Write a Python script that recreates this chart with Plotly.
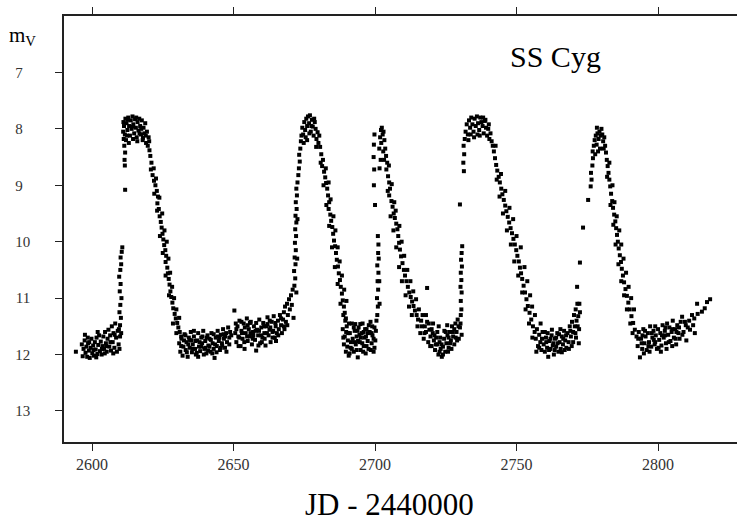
import plotly.graph_objects as go

# ---- data: (JD - 2440000, visual magnitude) ----
q0 = [(2594.3, 11.95), (2596.4, 11.82), (2596.7, 12.03), (2597.0, 11.9), (2597.4, 11.75), (2597.7, 11.97),
      (2598.0, 11.86), (2598.3, 12.04), (2598.6, 11.8), (2598.9, 11.93), (2599.2, 12.06), (2599.5, 11.88),
      (2599.8, 11.72), (2600.1, 11.98), (2600.4, 11.84), (2600.7, 12.02), (2601.0, 11.78), (2601.3, 11.91),
      (2601.6, 11.7), (2601.9, 11.99), (2602.2, 11.83), (2602.5, 11.66), (2602.8, 11.94), (2603.1, 11.77),
      (2603.4, 12.0), (2603.7, 11.85), (2604.0, 11.68), (2604.3, 11.9), (2604.6, 11.6), (2604.9, 11.8),
      (2605.2, 11.95), (2605.5, 11.72), (2605.8, 11.56), (2606.1, 11.86), (2606.4, 11.66), (2606.7, 11.93),
      (2607.0, 11.5), (2607.3, 11.78), (2607.6, 11.62), (2607.9, 11.88), (2608.2, 11.45), (2608.5, 11.7),
      (2608.8, 11.95), (2609.1, 11.58), (2609.4, 11.82), (2609.7, 11.9), (2609.9, 11.68),
      (2597.5, 11.65), (2599.0, 11.78), (2600.5, 11.92), (2602.0, 11.6), (2603.5, 11.9), (2605.0, 11.85),
      (2606.5, 11.78), (2608.0, 11.65), (2609.5, 11.55), (2598.5, 11.7), (2601.5, 12.05), (2604.5, 11.98),
      (2607.5, 11.98)]

o1 = [(2610.3, 11.62), (2609.9, 11.48), (2610.2, 11.35), (2609.7, 11.25), (2610.0, 11.12), (2610.4, 11.0),
      (2609.8, 10.88), (2610.1, 10.75), (2609.6, 10.62), (2610.0, 10.5), (2610.3, 10.4), (2610.1, 10.28),
      (2610.5, 10.18), (2610.7, 10.1), (2611.7, 9.08),
      (2611.6, 8.65), (2611.5, 8.55), (2611.7, 8.42), (2611.4, 8.3), (2611.2, 8.18), (2611.6, 8.1),
      (2611.0, 8.05), (2611.3, 7.95), (2611.1, 7.88),
      (2611.8, 7.82), (2612.2, 7.9), (2612.5, 8.02), (2612.8, 7.8), (2613.1, 7.95), (2613.4, 8.12),
      (2613.7, 7.85), (2614.0, 8.0), (2614.3, 7.78), (2614.6, 7.92), (2614.9, 8.08), (2615.2, 7.83),
      (2615.5, 7.98), (2615.8, 8.15), (2616.1, 7.88), (2616.4, 8.03), (2616.7, 7.82), (2617.0, 7.95),
      (2617.3, 8.1), (2617.6, 7.85), (2617.9, 8.2), (2618.2, 7.98), (2618.5, 8.08), (2618.8, 7.9),
      (2619.1, 8.25), (2619.4, 8.05), (2619.7, 8.3), (2620.0, 8.15), (2620.3, 8.38), (2612.0, 8.2),
      (2613.0, 8.25), (2612.6, 7.84), (2616.0, 8.22), (2614.5, 8.18),
      (2620.6, 8.48), (2621.0, 8.6), (2620.8, 8.72), (2621.4, 8.82), (2621.9, 8.92), (2622.4, 9.0),
      (2622.9, 9.1), (2623.3, 9.2), (2623.1, 9.32), (2623.6, 9.42), (2623.9, 9.55), (2624.3, 9.65),
      (2624.6, 9.75), (2624.9, 9.86), (2625.2, 9.96), (2625.5, 10.06), (2625.9, 10.15), (2626.2, 10.25),
      (2626.0, 10.36), (2626.6, 10.46), (2626.8, 10.56), (2627.1, 10.66), (2627.4, 10.76), (2627.7, 10.88),
      (2628.0, 10.98), (2628.4, 11.08), (2628.7, 11.18), (2629.2, 11.28), (2629.6, 11.36), (2630.1, 11.44),
      (2630.5, 11.52), (2631.0, 11.6), (2631.5, 11.68),
      (2621.8, 8.7), (2622.6, 8.88), (2623.8, 9.22), (2624.8, 9.5), (2625.6, 9.8), (2626.4, 10.0),
      (2627.0, 10.3), (2627.6, 10.55), (2628.3, 10.8), (2629.0, 11.0), (2629.8, 11.2), (2630.8, 11.35),
      (2612.4, 8.12), (2614.2, 7.96), (2615.6, 7.8), (2617.4, 8.0), (2619.0, 8.12), (2620.2, 8.22),
      (2622.0, 9.15), (2623.0, 9.45), (2624.0, 9.9), (2625.0, 10.2), (2626.0, 10.6), (2627.2, 10.95),
      (2628.6, 11.45), (2629.8, 11.62), (2616.8, 8.08), (2618.0, 8.16)]

q1 = [(2630.8, 11.8), (2631.2, 11.95), (2631.6, 11.72), (2632.0, 12.02), (2632.3, 11.86), (2632.7, 11.64),
      (2633.1, 11.92), (2633.4, 11.78), (2633.8, 12.04), (2634.2, 11.7), (2634.5, 11.88), (2634.9, 11.6),
      (2635.3, 11.96), (2635.6, 11.82), (2636.0, 11.68), (2636.4, 11.9), (2636.7, 12.0), (2637.1, 11.75),
      (2637.5, 11.62), (2637.8, 11.86), (2638.2, 11.94), (2638.6, 11.7), (2638.9, 11.8), (2639.3, 11.58),
      (2639.7, 11.9), (2640.0, 11.76), (2640.4, 11.98), (2640.8, 11.66), (2641.1, 11.84), (2641.5, 11.72),
      (2641.9, 11.95), (2642.2, 11.62), (2642.6, 11.8), (2643.0, 11.9), (2643.3, 12.06), (2643.7, 11.7),
      (2644.1, 11.85), (2644.4, 11.58), (2644.8, 11.76), (2645.2, 11.92), (2645.5, 11.65), (2645.9, 11.8),
      (2646.3, 11.55), (2646.6, 11.72), (2647.0, 11.88), (2647.4, 11.62), (2647.7, 11.78), (2648.1, 11.52),
      (2648.5, 11.7), (2648.8, 11.6), (2649.2, 11.66),
      (2633.0, 11.66), (2635.0, 11.75), (2637.0, 11.97), (2639.0, 11.68), (2641.0, 11.93), (2643.0, 11.64),
      (2645.0, 11.7), (2647.0, 11.68), (2634.0, 11.82), (2636.0, 11.58), (2638.0, 11.78), (2640.0, 11.88),
      (2642.0, 11.74), (2644.0, 11.96), (2646.0, 11.84),
      (2631.5, 11.85), (2632.5, 11.75), (2633.5, 11.96), (2634.5, 11.74), (2635.5, 11.9), (2636.5, 11.76),
      (2637.5, 12.04), (2638.5, 11.86), (2639.5, 12.0), (2640.5, 11.7), (2641.5, 11.86), (2642.5, 11.98),
      (2643.5, 11.82), (2644.5, 11.68), (2645.5, 11.88), (2646.5, 11.64), (2647.5, 11.95), (2648.5, 11.82),
      (2650.3, 11.22), (2650.6, 11.62), (2651.0, 11.78), (2651.4, 11.5), (2651.7, 11.68), (2652.1, 11.4),
      (2652.5, 11.85), (2652.8, 11.58), (2653.2, 11.72), (2653.6, 11.45), (2653.9, 11.9), (2654.3, 11.62),
      (2654.7, 11.36), (2655.0, 11.76), (2655.4, 11.55), (2655.8, 11.68), (2656.1, 11.42), (2656.5, 11.82),
      (2656.9, 11.6), (2657.2, 11.5), (2657.6, 11.74), (2658.0, 11.93), (2658.3, 11.56), (2658.7, 11.66),
      (2659.1, 11.38), (2659.4, 11.8), (2659.8, 11.52), (2660.2, 11.7), (2660.5, 11.44), (2660.9, 11.62),
      (2661.3, 11.84), (2661.6, 11.5), (2662.0, 11.34), (2662.4, 11.66), (2662.7, 11.56), (2663.1, 11.78),
      (2663.5, 11.42), (2663.8, 11.6), (2664.2, 11.32), (2664.6, 11.7), (2664.9, 11.5), (2665.3, 11.62),
      (2665.7, 11.4), (2666.0, 11.55), (2666.4, 11.3), (2666.8, 11.48), (2667.1, 11.62), (2667.5, 11.38),
      (2651.0, 11.55), (2653.0, 11.62), (2655.0, 11.48), (2657.0, 11.66), (2659.0, 11.58), (2661.0, 11.72),
      (2663.0, 11.52), (2665.0, 11.76), (2652.0, 11.7), (2654.0, 11.52), (2656.0, 11.62), (2658.0, 11.44),
      (2660.0, 11.78), (2662.0, 11.46), (2664.0, 11.58),
      (2650.8, 11.45), (2651.8, 11.85), (2652.8, 11.42), (2653.8, 11.78), (2654.8, 11.68), (2655.8, 11.44),
      (2656.8, 11.72), (2657.8, 11.58), (2658.8, 11.84), (2659.8, 11.66), (2660.8, 11.5), (2661.8, 11.62),
      (2662.8, 11.4), (2663.8, 11.7), (2664.8, 11.44), (2665.8, 11.66), (2666.8, 11.36), (2667.8, 11.5),
      (2667.8, 11.25), (2668.2, 11.15), (2668.5, 11.42), (2668.9, 11.1), (2669.2, 11.3), (2669.6, 11.02),
      (2669.9, 11.2), (2670.3, 10.95), (2670.6, 11.12), (2670.9, 10.85), (2671.2, 11.35), (2668.0, 11.55),
      (2669.0, 11.48)]

o2 = [(2671.5, 10.78), (2671.8, 10.65), (2671.4, 10.52), (2671.9, 10.4), (2671.6, 10.28), (2672.0, 10.15),
      (2671.7, 10.02), (2672.1, 9.9), (2671.8, 9.78), (2672.2, 9.66), (2671.9, 9.54), (2672.3, 9.42),
      (2672.0, 9.3), (2672.4, 9.18), (2672.2, 9.06), (2672.6, 8.95), (2672.9, 8.82), (2673.1, 8.7),
      (2673.4, 8.58), (2673.2, 8.46), (2673.6, 8.35), (2673.8, 8.22), (2674.0, 8.12),
      (2674.3, 7.98), (2674.6, 8.1), (2675.0, 7.88), (2675.3, 8.02), (2675.7, 7.82), (2676.0, 7.95),
      (2676.3, 7.78), (2676.7, 7.9), (2677.0, 7.76), (2677.3, 8.05), (2677.7, 7.84), (2678.0, 7.96),
      (2678.3, 8.12), (2678.7, 7.88), (2679.0, 8.0), (2679.3, 8.18), (2679.7, 8.06), (2680.0, 8.25),
      (2680.3, 8.12), (2680.6, 8.32), (2675.5, 8.15), (2676.8, 8.08), (2678.5, 7.82), (2674.8, 8.25),
      (2681.0, 8.45), (2681.6, 8.55), (2681.3, 8.66), (2682.0, 8.76), (2682.4, 8.86), (2682.7, 8.96),
      (2683.1, 9.06), (2683.4, 9.18), (2683.8, 9.3), (2683.6, 9.42), (2684.2, 9.52), (2684.5, 9.63),
      (2684.9, 9.74), (2685.2, 9.86), (2685.5, 9.98), (2685.9, 10.08), (2686.2, 10.2), (2686.5, 10.32),
      (2686.9, 10.44), (2687.2, 10.56), (2687.6, 10.68), (2687.9, 10.8), (2688.3, 10.92), (2688.6, 11.04),
      (2689.0, 11.15), (2689.3, 11.26), (2689.7, 11.36),
      (2682.6, 8.7), (2683.6, 8.95), (2684.3, 9.25), (2685.3, 9.55), (2686.0, 9.8), (2686.8, 10.1),
      (2687.5, 10.35), (2688.3, 10.6), (2689.1, 10.85), (2689.9, 11.05),
      (2676.0, 8.2), (2677.5, 7.95), (2679.2, 8.32), (2680.8, 8.6), (2681.8, 9.0), (2682.8, 9.35),
      (2683.8, 9.72), (2684.8, 10.1), (2685.8, 10.45), (2686.8, 10.75), (2687.8, 11.1), (2688.8, 11.3),
      (2672.6, 9.6), (2672.5, 10.3), (2672.2, 10.9)]

q2 = [(2688.6, 11.55), (2689.0, 11.82), (2689.3, 11.68), (2689.7, 11.95), (2690.0, 11.5), (2690.4, 11.75),
      (2690.7, 12.02), (2691.1, 11.62), (2691.4, 11.88), (2691.8, 11.45), (2692.1, 11.72), (2692.5, 11.95),
      (2692.8, 11.58), (2693.2, 11.82), (2693.5, 11.68), (2693.9, 12.05), (2694.2, 11.52), (2694.6, 11.78),
      (2694.9, 11.92), (2695.3, 11.62), (2695.6, 11.45), (2696.0, 11.85), (2696.3, 11.7), (2696.7, 11.98),
      (2697.0, 11.55), (2697.4, 11.76), (2697.7, 11.9), (2698.1, 11.6), (2698.4, 11.42), (2698.8, 11.8),
      (2699.1, 11.66), (2699.5, 11.95), (2699.8, 11.52), (2700.1, 11.75), (2689.5, 11.4), (2690.5, 11.62),
      (2691.5, 11.78), (2692.5, 11.52), (2693.5, 11.92), (2694.5, 11.65), (2695.5, 11.8), (2696.5, 11.55),
      (2697.5, 11.62), (2698.5, 11.92), (2699.5, 11.72), (2691.0, 11.98), (2693.0, 11.46), (2695.0, 11.7),
      (2697.0, 11.85), (2699.0, 11.5), (2690.2, 11.86), (2694.0, 11.76), (2696.0, 11.6),
      (2688.8, 11.7), (2689.8, 11.6), (2690.8, 11.45), (2691.8, 11.9), (2692.8, 11.78), (2693.8, 11.58),
      (2694.8, 11.46), (2695.8, 11.95), (2696.8, 11.68), (2697.8, 11.48), (2698.8, 11.62), (2699.8, 11.88),
      (2700.3, 11.58), (2700.5, 11.4)]

o3 = [(2700.8, 11.3), (2701.0, 11.15), (2700.7, 11.0), (2701.1, 10.85), (2700.9, 10.7), (2701.2, 10.55),
      (2700.8, 10.42), (2701.3, 10.3), (2701.1, 10.2), (2701.2, 10.05), (2701.0, 9.9), (2700.0, 9.35),
      (2699.6, 9.0), (2699.7, 8.72), (2699.5, 8.5), (2699.6, 8.28), (2699.8, 8.1),
      (2701.8, 8.15), (2702.1, 8.02), (2702.4, 7.98), (2702.7, 8.1), (2703.0, 8.05), (2702.2, 8.25),
      (2703.3, 8.2), (2703.6, 8.35), (2702.9, 8.4), (2701.5, 8.35), (2702.0, 8.55), (2701.6, 8.7),
      (2703.9, 8.48), (2704.3, 8.6), (2704.0, 8.72), (2704.6, 8.84), (2705.0, 8.95), (2705.3, 9.06),
      (2705.0, 9.18), (2705.8, 9.28), (2706.2, 9.38), (2706.6, 9.5), (2707.0, 9.58), (2707.5, 9.68),
      (2707.9, 9.78), (2708.2, 9.9), (2708.5, 10.02), (2708.8, 10.14), (2709.2, 10.26), (2709.7, 10.38),
      (2710.2, 10.5), (2710.6, 10.6), (2711.1, 10.7), (2711.6, 10.8), (2712.1, 10.9), (2712.6, 10.98),
      (2713.1, 11.06), (2713.6, 11.14), (2714.1, 11.22), (2714.7, 11.3), (2715.2, 11.38),
      (2704.9, 8.65), (2705.9, 8.98), (2706.8, 9.3), (2707.3, 9.45), (2708.6, 9.72), (2709.4, 10.0),
      (2710.3, 10.25), (2711.4, 10.5), (2712.5, 10.7), (2713.5, 10.88), (2714.5, 11.02),
      (2703.2, 8.55), (2704.5, 9.1), (2705.5, 9.55), (2706.5, 9.8), (2707.5, 10.1), (2708.5, 10.45),
      (2709.5, 10.7), (2710.8, 10.95), (2712.0, 11.15), (2713.0, 11.3), (2701.5, 10.7), (2701.6, 11.1)]

q3 = [(2715.0, 11.5), (2715.5, 11.2), (2716.0, 11.62), (2716.3, 11.4), (2716.8, 11.3), (2717.2, 11.72),
      (2717.6, 11.5), (2718.0, 11.6), (2718.4, 11.42), (2718.8, 11.78), (2719.2, 11.56), (2719.6, 11.68),
      (2720.0, 11.85), (2720.4, 11.62), (2720.8, 11.75), (2721.2, 11.92), (2721.6, 11.7), (2722.0, 11.82),
      (2722.4, 12.0), (2722.8, 11.78), (2723.2, 11.9), (2723.6, 12.04), (2724.0, 11.86), (2724.4, 11.72),
      (2724.8, 11.95), (2725.2, 11.8), (2725.6, 11.66), (2726.0, 11.88), (2726.4, 11.6), (2726.8, 11.75),
      (2727.2, 11.5), (2727.6, 11.68), (2728.0, 11.82), (2728.4, 11.45), (2728.8, 11.6), (2729.2, 11.38),
      (2729.6, 11.72), (2730.0, 11.52), (2730.3, 11.3), (2730.6, 11.65), (2718.0, 11.3), (2719.0, 11.45),
      (2720.0, 11.55), (2721.0, 11.66), (2722.0, 11.6), (2723.0, 11.7), (2724.0, 12.0), (2725.0, 11.6),
      (2726.0, 11.7), (2727.0, 11.9), (2728.0, 11.55), (2729.0, 11.75), (2718.4, 10.82), (2722.5, 11.5),
      (2725.5, 11.48),
      (2716.5, 11.5), (2717.5, 11.62), (2719.5, 11.85), (2720.5, 11.45), (2721.5, 11.82), (2722.8, 11.95),
      (2723.5, 11.82), (2724.5, 11.58), (2725.8, 11.95), (2726.5, 11.8), (2727.5, 11.6), (2728.5, 11.7),
      (2729.5, 11.5), (2730.2, 11.45)]

o4 = [(2730.5, 11.2), (2730.3, 11.05), (2730.6, 10.9), (2730.2, 10.8), (2730.5, 10.68), (2730.3, 10.55),
      (2730.7, 10.44), (2730.4, 10.32), (2730.6, 10.2), (2730.8, 10.08), (2730.0, 9.34), (2731.4, 8.75),
      (2731.2, 8.6), (2731.5, 8.45), (2731.3, 8.3), (2731.7, 8.18),
      (2732.0, 8.05), (2732.4, 7.92), (2732.8, 8.1), (2733.2, 7.85), (2733.6, 7.98), (2734.0, 7.8),
      (2734.4, 7.92), (2734.8, 8.05), (2735.2, 7.82), (2735.6, 7.95), (2736.0, 7.78), (2736.4, 7.9),
      (2736.8, 8.02), (2737.2, 7.8), (2737.6, 7.88), (2738.0, 7.95), (2738.4, 8.08), (2738.8, 7.86),
      (2739.2, 7.98), (2739.6, 8.12), (2740.0, 8.0), (2740.4, 8.18), (2740.8, 8.08), (2741.2, 8.22),
      (2733.0, 8.2), (2735.0, 8.15), (2737.0, 8.12), (2739.0, 7.84), (2741.6, 8.3),
      (2742.0, 8.4), (2742.4, 8.52), (2742.8, 8.64), (2743.2, 8.74), (2743.7, 8.85), (2744.1, 8.95),
      (2744.6, 9.06), (2745.0, 9.16), (2745.5, 9.26), (2746.0, 9.36), (2746.4, 9.46), (2746.9, 9.56),
      (2747.4, 9.66), (2747.9, 9.76), (2748.4, 9.85), (2748.9, 9.95), (2749.4, 10.05), (2749.9, 10.15),
      (2750.3, 10.25), (2750.8, 10.35), (2751.2, 10.46), (2751.6, 10.56), (2752.0, 10.66), (2752.5, 10.78),
      (2753.0, 10.9), (2753.5, 11.02), (2754.0, 11.14), (2754.6, 11.26), (2755.2, 11.38), (2755.8, 11.5),
      (2756.4, 11.6),
      (2743.0, 8.9), (2744.5, 8.8), (2746.0, 9.1), (2747.5, 9.4), (2748.8, 9.6), (2750.0, 9.9),
      (2751.5, 10.1), (2752.8, 10.45), (2753.8, 10.7), (2754.8, 10.95), (2755.5, 11.15), (2756.5, 11.3),
      (2733.8, 8.1), (2736.2, 8.1), (2738.2, 7.8), (2740.2, 7.92), (2742.6, 8.3), (2744.0, 9.2),
      (2745.2, 9.5), (2746.6, 9.8), (2748.0, 10.05), (2749.2, 10.35), (2750.6, 10.6), (2752.0, 10.9),
      (2753.2, 11.2), (2754.4, 11.45), (2755.6, 11.7)]

q4 = [(2756.8, 11.72), (2757.2, 11.55), (2757.6, 11.85), (2758.0, 11.65), (2758.4, 11.78), (2758.8, 11.92),
      (2759.2, 11.6), (2759.6, 11.82), (2760.0, 11.95), (2760.4, 11.7), (2760.8, 11.88), (2761.2, 12.04),
      (2761.6, 11.76), (2762.0, 11.9), (2762.4, 11.66), (2762.8, 11.84), (2763.2, 12.0), (2763.6, 11.72),
      (2764.0, 11.86), (2764.4, 11.62), (2764.8, 11.95), (2765.2, 11.78), (2765.6, 11.9), (2766.0, 11.68),
      (2766.4, 11.82), (2766.8, 11.58), (2767.2, 11.75), (2767.6, 11.88), (2768.0, 11.62), (2768.4, 11.78),
      (2768.8, 11.5), (2769.2, 11.68), (2769.6, 11.42), (2770.0, 11.6), (2770.3, 11.3), (2770.6, 11.5),
      (2770.9, 11.2), (2771.2, 11.4), (2771.5, 11.1), (2771.8, 11.32), (2772.1, 11.55), (2772.4, 11.25),
      (2771.0, 11.7), (2772.0, 11.8), (2769.5, 11.85), (2760.0, 11.6), (2762.0, 11.72), (2764.0, 11.7),
      (2766.0, 11.96), (2758.5, 11.45), (2761.0, 11.62), (2763.0, 11.8), (2765.0, 11.64), (2767.0, 11.92),
      (2757.0, 11.95), (2758.0, 11.88), (2759.0, 11.72), (2760.5, 11.78), (2761.5, 11.92), (2762.5, 11.56),
      (2763.5, 11.92), (2764.5, 11.8), (2765.5, 11.55), (2766.5, 11.72), (2767.5, 11.66), (2768.5, 11.9),
      (2769.0, 11.58), (2770.0, 11.78), (2770.8, 11.62), (2771.6, 11.5), (2772.2, 11.1),
      (2771.4, 10.8), (2772.4, 10.37), (2773.5, 9.75), (2775.3, 9.26)]

o5 = [(2776.2, 9.02), (2776.5, 8.9), (2776.3, 8.78), (2776.8, 8.65), (2777.0, 8.52), (2776.9, 8.4),
      (2777.3, 8.3), (2777.6, 8.2), (2778.0, 8.12), (2778.3, 8.28), (2778.6, 8.08), (2779.0, 8.18),
      (2779.3, 8.05), (2779.7, 8.12), (2780.0, 8.0), (2780.3, 8.1), (2780.6, 8.22), (2781.0, 8.15),
      (2778.8, 8.4), (2779.5, 8.35),
      (2781.3, 8.3), (2781.6, 8.42), (2781.9, 8.55), (2782.2, 8.66), (2782.5, 8.78), (2782.8, 8.9),
      (2783.1, 9.02), (2783.4, 9.15), (2783.8, 9.28), (2784.1, 9.4), (2784.5, 9.52), (2784.9, 9.64),
      (2785.2, 9.76), (2785.5, 9.88), (2785.8, 10.0), (2786.1, 10.12), (2786.5, 10.24), (2786.9, 10.36),
      (2787.2, 10.48), (2787.6, 10.6), (2788.0, 10.72), (2788.5, 10.84), (2789.0, 10.96), (2789.5, 11.08),
      (2790.0, 11.2), (2790.6, 11.32), (2791.2, 11.44), (2791.8, 11.56), (2792.4, 11.68),
      (2782.8, 8.6), (2783.9, 9.0), (2784.6, 9.3), (2785.4, 9.55), (2786.3, 9.8), (2787.0, 10.05),
      (2787.8, 10.3), (2788.7, 10.55), (2789.6, 10.8), (2790.5, 11.0), (2791.5, 11.2),
      (2777.8, 8.45), (2778.4, 7.98), (2780.8, 8.35), (2782.0, 8.85), (2783.2, 9.35), (2784.2, 9.7),
      (2785.0, 10.05), (2786.0, 10.4), (2787.0, 10.7), (2788.0, 10.95), (2789.0, 11.2), (2790.2, 11.45),
      (2791.0, 11.62)]

q5 = [(2792.8, 11.85), (2793.2, 11.6), (2793.6, 12.05), (2794.0, 11.72), (2794.4, 11.9), (2794.8, 11.55),
      (2795.2, 11.8), (2795.6, 11.68), (2796.0, 11.92), (2796.4, 11.62), (2796.8, 11.78), (2797.2, 11.5),
      (2797.6, 11.86), (2798.0, 11.7), (2798.4, 11.58), (2798.8, 11.82), (2799.2, 11.66), (2799.6, 11.9),
      (2800.0, 11.55), (2800.4, 11.74), (2800.8, 11.62), (2801.2, 11.84), (2801.6, 11.48), (2802.0, 11.7),
      (2802.4, 11.58), (2802.8, 11.8), (2803.2, 11.45), (2803.6, 11.65), (2804.0, 11.52), (2804.4, 11.76),
      (2804.8, 11.6), (2805.2, 11.4), (2805.6, 11.7), (2806.0, 11.55), (2806.4, 11.82), (2806.8, 11.48),
      (2807.2, 11.62), (2807.6, 11.72), (2808.0, 11.42), (2808.5, 11.33), (2809.0, 11.6), (2809.5, 11.42),
      (2810.0, 11.75), (2810.5, 11.52), (2811.3, 11.56), (2812.0, 11.3), (2812.4, 11.48), (2813.0, 11.62),
      (2813.8, 11.1), (2814.0, 11.28), (2815.5, 11.24), (2816.5, 11.18), (2817.3, 11.07), (2818.4, 11.02),
      (2795.0, 11.98), (2797.0, 11.95), (2799.0, 11.5), (2801.0, 11.95), (2803.0, 11.9), (2805.0, 11.85),
      (2794.5, 11.66), (2798.5, 11.74), (2802.5, 11.66), (2806.5, 11.6),
      (2793.0, 11.72), (2794.2, 11.8), (2795.4, 11.58), (2796.6, 11.85), (2797.8, 11.62), (2799.0, 11.78),
      (2800.2, 11.88), (2801.4, 11.66), (2802.6, 11.52), (2803.8, 11.78), (2805.0, 11.55), (2806.2, 11.72),
      (2807.4, 11.52), (2808.6, 11.65), (2809.8, 11.48), (2811.0, 11.4), (2812.8, 11.36)]

x_ticks = [2600, 2650, 2700, 2750, 2800]
y_ticks = [7, 8, 9, 10, 11, 12, 13]
y_ticktext = ["7\u2007", "8\u2007", "9\u2007", "10", "11", "12", "13"]

segments = [q0, o1, q1, o2, q2, o3, q3, o4, q4, o5, q5]
jd = [p[0] for seg in segments for p in seg]
mag = [p[1] for seg in segments for p in seg]

fig = go.Figure()
fig.add_trace(go.Scatter(
    x=jd, y=mag, mode="markers",
    marker=dict(symbol="square", size=4, color="black", line=dict(width=0)),
    hoverinfo="x+y", showlegend=False,
))

axis_font = dict(family="Liberation Serif", color="#333333")
fig.update_layout(
    width=737, height=521,
    margin=dict(l=64, r=0, t=16, b=79, autoexpand=False),
    paper_bgcolor="white", plot_bgcolor="white",
    xaxis=dict(
        range=[2590.1, 2827.9], tickvals=x_ticks, ticks="outside", ticklen=7, tickwidth=1.2,
        tickcolor="#222", showline=True, linecolor="#222", linewidth=1.5, mirror="ticks",
        showgrid=False, zeroline=False, tickfont=dict(size=16, **axis_font), automargin=False,
    ),
    yaxis=dict(
        range=[13.55, 6.0], tickvals=y_ticks, ticktext=y_ticktext, ticks="outside", ticklen=7,
        tickwidth=1.2, tickcolor="#222", showline=True, linecolor="#222", linewidth=1.5,
        showgrid=False, zeroline=False, tickfont=dict(size=15, **axis_font),
        ticklabelstandoff=22, automargin=False,
    ),
    annotations=[
        dict(text="m<sub>V</sub>", xref="paper", yref="paper", x=-0.062, y=0.952,
             xanchor="center", yanchor="middle", showarrow=False,
             font=dict(family="Liberation Serif", size=21, color="black")),
        dict(text="SS Cyg", xref="paper", yref="paper", x=0.7296, y=0.905,
             xanchor="center", yanchor="middle", showarrow=False,
             font=dict(family="Liberation Serif", size=30, color="black")),
        dict(text="JD - 2440000", xref="paper", yref="paper", x=0.483, y=-0.147,
             xanchor="center", yanchor="middle", showarrow=False,
             font=dict(family="Liberation Serif", size=31, color="black")),
    ],
)

fig.write_html("out.html", config={"displayModeBar": False},
               post_script="document.body.style.margin='0';")
